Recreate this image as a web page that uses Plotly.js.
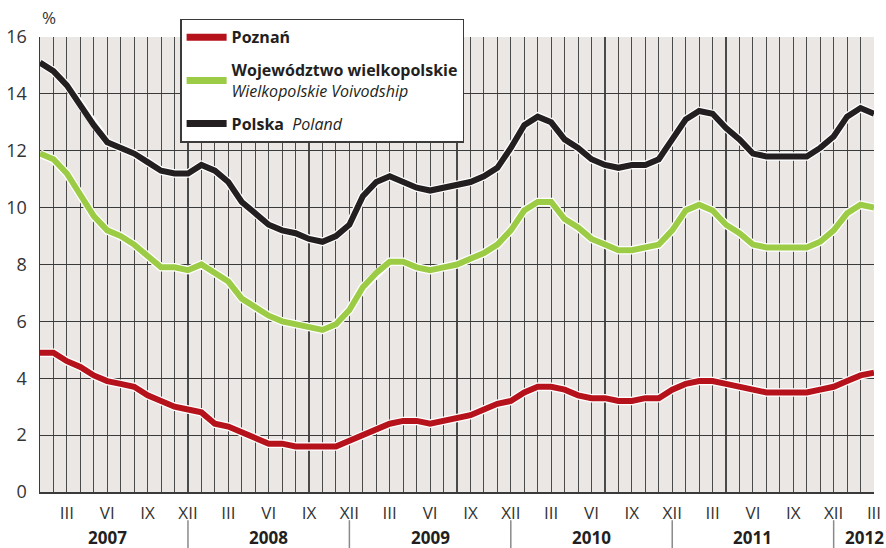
<!DOCTYPE html>
<html>
<head>
<meta charset="utf-8">
<script src="https://cdn.plot.ly/plotly-3.0.1.min.js"></script>
<style>html,body{margin:0;padding:0;background:#fff;}#chart{width:886px;height:548px;}</style>
</head>
<body>
<div id="chart"></div>
<script>
// Unemployment rate, %, monthly Jan 2007 – Mar 2012
const years = [2007, 2008, 2009, 2010, 2011, 2012];
const romanMonths = ['I','II','III','IV','V','VI','VII','VIII','IX','X','XI','XII'];
const labelledMonths = ['III','VI','IX','XII'];

const poznan = [4.9, 4.9, 4.6, 4.4, 4.1, 3.9, 3.8, 3.7, 3.4, 3.2, 3.0, 2.9,
  2.8, 2.4, 2.3, 2.1, 1.9, 1.7, 1.7, 1.6, 1.6, 1.6, 1.6, 1.8,
  2.0, 2.2, 2.4, 2.5, 2.5, 2.4, 2.5, 2.6, 2.7, 2.9, 3.1, 3.2,
  3.5, 3.7, 3.7, 3.6, 3.4, 3.3, 3.3, 3.2, 3.2, 3.3, 3.3, 3.6,
  3.8, 3.9, 3.9, 3.8, 3.7, 3.6, 3.5, 3.5, 3.5, 3.5, 3.6, 3.7,
  3.9, 4.1, 4.2];
const wielkopolskie = [11.9, 11.7, 11.2, 10.4, 9.7, 9.2, 9.0, 8.7, 8.3, 7.9, 7.9, 7.8,
  8.0, 7.7, 7.4, 6.8, 6.5, 6.2, 6.0, 5.9, 5.8, 5.7, 5.9, 6.4,
  7.2, 7.7, 8.1, 8.1, 7.9, 7.8, 7.9, 8.0, 8.2, 8.4, 8.7, 9.2,
  9.9, 10.2, 10.2, 9.6, 9.3, 8.9, 8.7, 8.5, 8.5, 8.6, 8.7, 9.2,
  9.9, 10.1, 9.9, 9.4, 9.1, 8.7, 8.6, 8.6, 8.6, 8.6, 8.8, 9.2,
  9.8, 10.1, 10.0];
const polska = [15.1, 14.8, 14.3, 13.6, 12.9, 12.3, 12.1, 11.9, 11.6, 11.3, 11.2, 11.2,
  11.5, 11.3, 10.9, 10.2, 9.8, 9.4, 9.2, 9.1, 8.9, 8.8, 9.0, 9.4,
  10.4, 10.9, 11.1, 10.9, 10.7, 10.6, 10.7, 10.8, 10.9, 11.1, 11.4, 12.1,
  12.9, 13.2, 13.0, 12.4, 12.1, 11.7, 11.5, 11.4, 11.5, 11.5, 11.7, 12.4,
  13.1, 13.4, 13.3, 12.8, 12.4, 11.9, 11.8, 11.8, 11.8, 11.8, 12.1, 12.5,
  13.2, 13.5, 13.3];

const seriesNames = [
  '<b>Poznań</b>',
  '<b>Województwo wielkopolskie</b><br><i>Wielkopolskie Voivodship</i>',
  '<b>Polska</b>  <i>Poland</i>'
];
const seriesColors = ['#b5121b', '#9ccb45', '#231f20'];

const n = polska.length;
const x = [];
const tickText = [];
for (let i = 0; i < n; i++) {
  x.push(i);
  const m = romanMonths[i % 12];
  tickText.push(labelledMonths.includes(m) ? m : '');
}

const dataSets = [poznan, wielkopolskie, polska];
const traces = [];
[2, 1, 0].forEach(k => {
  traces.push({x: x, y: dataSets[k], mode: 'lines', type: 'scatter',
    line: {color: '#ffffff', width: 8.5}, showlegend: false, hoverinfo: 'skip'});
  traces.push({x: x, y: dataSets[k], mode: 'lines', type: 'scatter', name: seriesNames[k],
    line: {color: seriesColors[k], width: 6}, showlegend: false});
});
[0, 1, 2].forEach(k => {
  traces.push({x: [null], y: [null], mode: 'lines', type: 'scatter', name: seriesNames[k],
    legendgroup: 'g' + k, line: {color: seriesColors[k], width: 7}, showlegend: true});
});

const shapes = [];
const annotations = [];
for (let yi = 0; yi < years.length; yi++) {
  const decIdx = yi * 12 + 11;
  if (decIdx < n - 1) {
    shapes.push({type: 'line', xref: 'x', yref: 'paper', x0: decIdx, x1: decIdx,
      y0: -0.062, y1: -0.19, line: {color: '#8a8a8a', width: 1.5}});
  }
  let cx = yi * 12 + 5;
  if (cx > n - 1) cx = 61.3;
  annotations.push({xref: 'x', yref: 'paper', x: cx, y: -0.099, text: '<b>' + years[yi] + '</b>',
    showarrow: false, xanchor: 'center', yanchor: 'middle',
    font: {family: 'Open Sans, sans-serif', size: 17, color: '#231f20'}});
}
annotations.push({xref: 'paper', yref: 'paper', x: 0.0, y: 1.043, text: '%', showarrow: false,
  xanchor: 'left', yanchor: 'middle', font: {family: 'Open Sans, sans-serif', size: 17, color: '#333333'}});

const layout = {
  width: 886, height: 548,
  margin: {l: 40, r: 12, t: 37, b: 56},
  paper_bgcolor: '#ffffff',
  plot_bgcolor: '#ebe7e4',
  font: {family: 'Open Sans, sans-serif', size: 16, color: '#231f20'},
  xaxis: {
    range: [0, n - 1], tickmode: 'array', tickvals: x, ticktext: tickText,
    showgrid: true, gridcolor: '#4a4a4a', gridwidth: 1.1,
    zeroline: false, showline: true, linecolor: '#3a3a3a', linewidth: 1.5,
    ticks: '', ticklabelstandoff: 5, tickangle: 0,
    tickfont: {family: 'Open Sans, sans-serif', size: 17, color: '#333333'}, fixedrange: true
  },
  yaxis: {
    range: [0, 16], tickvals: [0, 2, 4, 6, 8, 10, 12, 14, 16],
    showgrid: true, gridcolor: '#3a3a3a', gridwidth: 1.2,
    zeroline: false, showline: true, linecolor: '#3a3a3a', linewidth: 1.5,
    ticks: '', ticklabelstandoff: 8,
    tickfont: {family: 'Open Sans, sans-serif', size: 18, color: '#333333'}, fixedrange: true
  },
  legend: {
    x: 0.168, y: 1.04, xanchor: 'left', yanchor: 'top',
    bgcolor: '#ffffff', bordercolor: '#3a3a3a', borderwidth: 1.5,
    font: {family: 'Open Sans, sans-serif', size: 16, color: '#231f20'},
    traceorder: 'grouped', tracegroupgap: 9, itemwidth: 40
  },
  showlegend: true,
  shapes: shapes,
  annotations: annotations
};

Plotly.newPlot('chart', traces, layout, {displayModeBar: false, staticPlot: true});
</script>
</body>
</html>
